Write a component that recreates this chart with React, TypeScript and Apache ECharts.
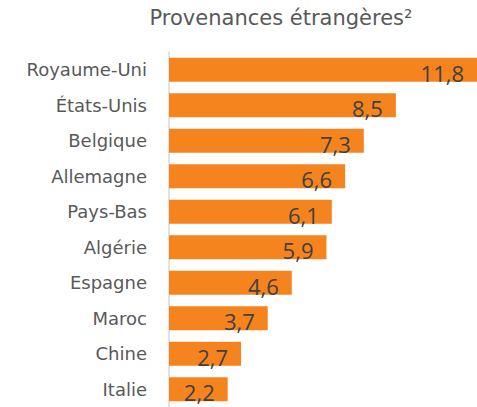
import React, { useEffect, useRef } from "react";
import * as echarts from "echarts";

const categories = ["Royaume-Uni", "États-Unis", "Belgique", "Allemagne", "Pays-Bas", "Algérie", "Espagne", "Maroc", "Chine", "Italie"];
const values = [11.8, 8.5, 7.3, 6.6, 6.1, 5.9, 4.6, 3.7, 2.7, 2.2];
const title = "Provenances étrangères²";

export default function App() {
  const ref = useRef<HTMLDivElement>(null);
  useEffect(() => {
    const chart = echarts.init(ref.current!, null, { renderer: "svg" });
    const font = "DejaVu Sans";
    chart.setOption({
      animation: false,
      title: {
        text: title,
        left: 276,
        textAlign: "center",
        top: 2,
        textStyle: { fontFamily: font, fontSize: 21, fontWeight: "normal", color: "#595959" },
      },
      grid: { left: 169, right: 0, top: 52, bottom: -6, containLabel: false },
      xAxis: {
        type: "value",
        min: 0,
        max: 11.54,
        show: false,
      },
      yAxis: {
        type: "category",
        data: categories,
        inverse: true,
        axisLine: { show: true, lineStyle: { color: "#d9d9d9", width: 1.5 } },
        axisTick: { show: false },
        axisLabel: { fontFamily: font, fontSize: 18, color: "#595959", margin: 22 },
      },
      series: [
        {
          type: "bar",
          data: values,
          barWidth: 24,
          clip: true,
          itemStyle: { color: "#F5841F" },
          label: {
            show: true,
            position: "insideRight",
            distance: 13,
            offset: [0, 3],
            formatter: (p: any) => String(p.value).replace(".", ","),
            fontFamily: "Open Sans",
            fontSize: 22,
            color: "#404040",
          },
        },
      ],
    });
    return () => chart.dispose();
  }, []);
  return <div ref={ref} style={{ width: 477, height: 407, position: "absolute", left: 0, top: 0 }} />;
}
